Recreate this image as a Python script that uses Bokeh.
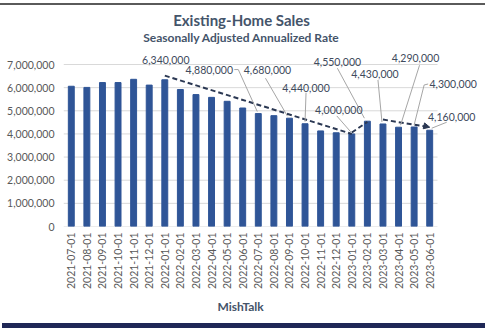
import math
from bokeh.plotting import figure
from bokeh.layouts import column
from bokeh.models import (Label, NumeralTickFormatter, FixedTicker, Range1d, Arrow,
                          NormalHead, Title, Div)
from bokeh.embed import file_html
from bokeh.resources import INLINE

# ---- data ----
dates = ["2021-07-01", "2021-08-01", "2021-09-01", "2021-10-01", "2021-11-01", "2021-12-01",
         "2022-01-01", "2022-02-01", "2022-03-01", "2022-04-01", "2022-05-01", "2022-06-01",
         "2022-07-01", "2022-08-01", "2022-09-01", "2022-10-01", "2022-11-01", "2022-12-01",
         "2023-01-01", "2023-02-01", "2023-03-01", "2023-04-01", "2023-05-01", "2023-06-01"]
sales = [6060000, 6010000, 6220000, 6220000, 6360000, 6110000,
         6340000, 5920000, 5700000, 5580000, 5410000, 5120000,
         4880000, 4790000, 4680000, 4440000, 4130000, 4050000,
         4000000, 4550000, 4430000, 4290000, 4300000, 4160000]
labelled = ["2022-01-01", "2022-07-01", "2022-09-01", "2022-10-01", "2023-01-01",
            "2023-02-01", "2023-03-01", "2023-04-01", "2023-05-01", "2023-06-01"]
trend_x = [["2022-01-01", "2023-01-01"], ["2023-01-01", "2023-02-01"], ["2023-03-01", "2023-06-01"]]
trend_y = [[6520000, 4000000], [4060000, 4520000], [4620000, 4290000]]
y_ticks = [0, 1000000, 2000000, 3000000, 4000000, 5000000, 6000000, 7000000]

title = "Existing-Home Sales"
subtitle = "Seasonally Adjusted Annualized Rate"
source_text = "MishTalk"

# ---- layout constants (absolute page pixels) ----
W = 485
TOP = 5            # figure starts below the thin top rule
BOTTOM = 323       # figure ends above the navy strip
FL, FR, FT, FB = 63, 437, 64, 226   # plot area of the bars
YMAX = 7000000
n = len(dates)
pxu = (FR - FL) / n
pyu = (FB - FT) / YMAX

def px2x(px):
    return (px - FL) / pxu - 0.5

def py2y(py):
    return (FB - py) / pyu

FONT = "Lato"
TITLE_C = "#44546A"
LBL_C = "#404A5C"

p = figure(width=W, height=BOTTOM - TOP, output_backend="svg", toolbar_location=None,
           x_range=Range1d(-0.5, px2x(W)), y_range=Range1d(0, py2y(TOP)),
           min_border_left=FL, min_border_right=0, min_border_top=0,
           min_border_bottom=BOTTOM - FB)
p.outline_line_color = None
p.background_fill_color = "white"
p.border_fill_color = "white"
p.xgrid.grid_line_color = None
p.ygrid.grid_line_color = None

xs = list(range(n))

# gridlines limited to the plot area
p.segment(x0=[-0.5] * len(y_ticks), x1=[n - 0.5] * len(y_ticks), y0=y_ticks, y1=y_ticks,
          line_color="#D9D9D9", line_width=1)

p.vbar(x=xs, top=sales, width=0.38, color="#2F5597")

# axes
p.yaxis.ticker = FixedTicker(ticks=y_ticks)
p.yaxis.formatter = NumeralTickFormatter(format="0,0")
p.yaxis.axis_line_color = None
p.yaxis.major_tick_line_color = None
p.yaxis.minor_tick_line_color = None
p.yaxis.major_tick_out = 0
p.yaxis.major_tick_in = 0
p.yaxis.major_label_standoff = 9
p.yaxis.major_label_text_font = FONT
p.yaxis.major_label_text_font_size = "10.5px"
p.yaxis.major_label_text_color = "#595959"

p.xaxis.ticker = FixedTicker(ticks=xs)
p.xaxis.major_label_overrides = {i: d for i, d in enumerate(dates)}
p.xaxis.major_label_orientation = math.pi / 2
p.xaxis.axis_line_color = None
p.xaxis.major_tick_line_color = None
p.xaxis.minor_tick_line_color = None
p.xaxis.major_tick_out = 0
p.xaxis.major_tick_in = 0
p.xaxis.major_label_standoff = 6
p.xaxis.major_label_text_font = FONT
p.xaxis.major_label_text_font_size = "10.5px"
p.xaxis.major_label_text_color = "#595959"

# trend lines
idx = {d: i for i, d in enumerate(dates)}
for tx, ty in zip(trend_x, trend_y):
    xa = [idx[t] for t in tx]
    p.line(x=xa, y=ty, line_color="#2B3853", line_width=2, line_dash="5 3")
last_tx, last_ty = trend_x[-1], trend_y[-1]
p.add_layout(Arrow(end=NormalHead(size=6, fill_color="#2B3853", line_color="#2B3853"),
                   x_start=idx[last_tx[1]] - 0.05, y_start=last_ty[1] + 8000,
                   x_end=idx[last_tx[1]], y_end=last_ty[1], line_alpha=0))

# data labels
label_pos = {  # dx, dy of label center from bar top in pixels
    "2022-01-01": (1, -20), "2022-07-01": (-49, -44), "2022-09-01": (-22, -48),
    "2022-10-01": (1, -36), "2023-01-01": (-13, -24), "2023-02-01": (-30, -59),
    "2023-03-01": (-8, -50), "2023-04-01": (17, -69), "2023-05-01": (39, -43),
    "2023-06-01": (22, -13)}
leader_pts = {  # leader polyline points, pixel offsets from bar top
    "2022-01-01": [],
    "2022-07-01": [(-24, -44), (-20, -44), (-1, -2)],
    "2022-09-01": [(-24, -40), (-2, -2)],
    "2022-10-01": [(1, -31), (0, -2)],
    "2023-01-01": [(-15, -18), (-1, -2)],
    "2023-02-01": [(-30, -53), (-3, -3)],
    "2023-03-01": [(-5, -44), (-1, -2)],
    "2023-04-01": [(21, -62), (2, -2)],
    "2023-05-01": [(14, -43), (10, -42), (0, -2)],
    "2023-06-01": [(17, -8), (2, -2)]}

lx, ly = [], []
for d in labelled:
    i = idx[d]
    v = sales[i]
    bx = FL + (i + 0.5) * pxu
    by = FB - v * pyu
    dx, dy = label_pos[d]
    p.add_layout(Label(x=px2x(bx + dx), y=py2y(by + dy), text=f"{v:,}",
                       text_align="center", text_baseline="middle",
                       text_font=FONT, text_font_size="10.5px", text_color=LBL_C))
    pts = leader_pts[d]
    if pts:
        lx.append([px2x(bx + a) for a, b in pts])
        ly.append([py2y(by + b) for a, b in pts])
p.multi_line(xs=lx, ys=ly, line_color="#A6A6A6", line_width=1)

# titles
p.add_layout(Label(x=px2x(241), y=py2y(19), text=title, text_align="center",
                   text_baseline="middle", text_font=FONT, text_font_style="bold",
                   text_font_size="15px", text_color=TITLE_C))
p.add_layout(Label(x=px2x(241), y=py2y(37), text=subtitle, text_align="center",
                   text_baseline="middle", text_font=FONT, text_font_style="bold",
                   text_font_size="12px", text_color=TITLE_C))
p.add_layout(Title(text=source_text, align="left", offset=217 - FL, standoff=8,
                   text_font=FONT, text_font_style="bold", text_font_size="12px",
                   text_color=TITLE_C), "below")

# thin top rule and navy bottom strip
top_rule = Div(text="", width=W, height=2, margin=(3, 0, 0, 0),
               styles={"background-color": "#5A5A5A"})
bottom_strip = Div(text="", width=W - 2, height=5, margin=(0, 0, 0, 2),
                   styles={"background-color": "#1F2756"})

page = column(top_rule, p, bottom_strip, spacing=0)
open("out.html", "w").write(file_html(page, INLINE))
